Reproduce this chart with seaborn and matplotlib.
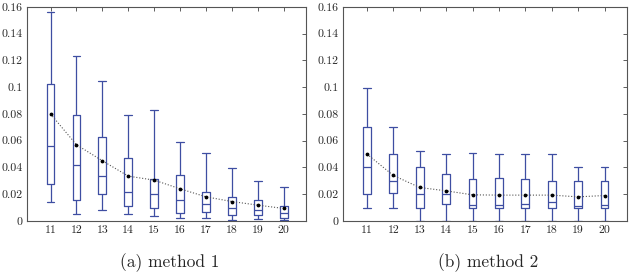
import numpy as np
import pandas as pd
import seaborn as sns
import matplotlib.pyplot as plt

# values: [low whisker, q1, median, q3, high whisker]
sizes = ["11", "12", "13", "14", "15", "16", "17", "18", "19", "20"]

m1_low = [0.0145, 0.005, 0.0085, 0.005, 0.0035, 0.002, 0.0022, 0.001, 0.0018, 0.001]
m1_q1 = [0.0278, 0.016, 0.020, 0.011, 0.010, 0.006, 0.0068, 0.0043, 0.0043, 0.0025]
m1_med = [0.056, 0.0415, 0.0335, 0.022, 0.020, 0.0155, 0.0125, 0.010, 0.008, 0.006]
m1_q3 = [0.1025, 0.079, 0.0625, 0.047, 0.031, 0.0345, 0.022, 0.018, 0.0158, 0.011]
m1_high = [0.156, 0.123, 0.105, 0.079, 0.083, 0.059, 0.0505, 0.0395, 0.0295, 0.0255]
m1_mean = [0.080, 0.057, 0.045, 0.0335, 0.0305, 0.024, 0.018, 0.0145, 0.0118, 0.0093]

m2_low = [0.010, 0.010, 0.0, 0.0, 0.0, 0.0, 0.0, 0.0, 0.0, 0.0]
m2_q1 = [0.020, 0.021, 0.010, 0.013, 0.010, 0.010, 0.010, 0.010, 0.010, 0.010]
m2_med = [0.040, 0.030, 0.020, 0.020, 0.012, 0.012, 0.013, 0.014, 0.011, 0.012]
m2_q3 = [0.070, 0.050, 0.040, 0.035, 0.031, 0.032, 0.031, 0.030, 0.030, 0.030]
m2_high = [0.0995, 0.070, 0.052, 0.050, 0.051, 0.050, 0.050, 0.050, 0.040, 0.040]
m2_mean = [0.050, 0.034, 0.025, 0.0225, 0.0195, 0.0193, 0.0193, 0.0193, 0.018, 0.019]

yticks = [0, 0.02, 0.04, 0.06, 0.08, 0.1, 0.12, 0.14, 0.16]
yticklabels = ["0", "0.02", "0.04", "0.06", "0.08", "0.1", "0.12", "0.14", "0.16"]
captions = ["(a) method 1", "(b) method 2"]

sns.set_style("white")
plt.rcParams["font.family"] = ["cmr10", "DejaVu Serif"]
plt.rcParams["mathtext.fontset"] = "cm"

blue = "#3e4ea2"

def to_frame(low, q1, med, q3, high):
    rows = []
    for i, s in enumerate(sizes):
        for v in (low[i], q1[i], med[i], q3[i], high[i]):
            rows.append((s, v))
    return pd.DataFrame(rows, columns=["size", "err"])

fig = plt.figure(figsize=(6.32, 2.8), dpi=100)
ax1 = fig.add_axes([0.043, 0.211, 0.441, 0.764])
ax2 = fig.add_axes([0.543, 0.211, 0.449, 0.764])

sets = [
    (ax1, to_frame(m1_low, m1_q1, m1_med, m1_q3, m1_high), m1_mean),
    (ax2, to_frame(m2_low, m2_q1, m2_med, m2_q3, m2_high), m2_mean),
]

for (ax, df, means), cap in zip(sets, captions):
    sns.boxplot(data=df, x="size", y="err", ax=ax, whis=(0, 100), width=0.3,
                fill=False, color=blue, linewidth=0.9, showfliers=False,
                capwidths=0.3)
    ax.plot(range(len(sizes)), means, ":", color="#555555", lw=0.8)
    ax.plot(range(len(sizes)), means, ".", color="black", ms=3.5)
    ax.set_xlim(-0.9, 9.85)
    ax.set_ylim(0, 0.16)
    ax.set_yticks(yticks)
    ax.set_yticklabels(yticklabels)
    ax.set_xlabel("")
    ax.set_ylabel("")
    ax.tick_params(direction="in", top=True, right=True, length=3,
                   labelsize=8.5, color="#444444", width=0.6)
    for sp in ax.spines.values():
        sp.set_color("#555555")
        sp.set_linewidth(0.8)
    bb = ax.get_position()
    fig.text(bb.x0 + bb.width / 2 + 0.005, 0.045, cap, ha="center", fontsize=12.5)

fig.savefig("out.png", dpi=100)
